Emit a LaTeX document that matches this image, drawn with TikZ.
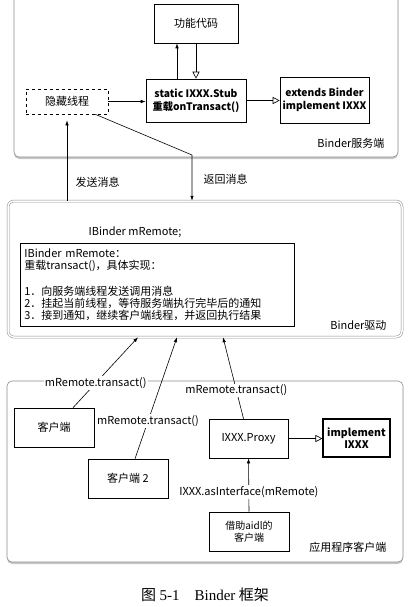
\documentclass[tikz,border=0pt]{standalone}
\usepackage{fontspec}
\setmainfont{Noto Sans CJK SC}
\newfontfamily\capserif{Liberation Serif}
\usepackage{tikz}
\usetikzlibrary{arrows.meta,positioning,shadows}
\definecolor{panelgray}{RGB}{140,140,140}

\begin{document}
\begin{tikzpicture}[x=1pt, y=-1pt,
  every node/.style={font=\fontsize{11}{13}\selectfont},
  box/.style={draw, line width=0.6pt, align=center, inner sep=2pt},
  panel/.style={draw=panelgray, line width=0.6pt, rounded corners=5pt, fill=white,
    drop shadow={shadow xshift=0pt, shadow yshift=-2pt, opacity=0.45}},
  call/.style={-{Latex[length=5pt,width=3.5pt]}, line width=0.6pt},
  inherit/.style={-{Triangle[open,length=7pt,width=7pt]}, line width=0.6pt},
  tag/.style={fill=white, inner sep=1pt}]
  \useasboundingbox (0,0) rectangle (419,607);
  \clip (0,0) rectangle (419,607);

  % panels
  \node[panel, minimum width=384pt, minimum height=167pt] (srv) at (206,73.5) {};
  \node[panel, minimum width=396pt, minimum height=181pt] (app) at (205,471.5) {};
  \node[draw=panelgray, double, double distance=1.5pt, line width=0.5pt, rounded corners=6pt, fill=white,
    minimum width=394pt, minimum height=136pt] (drv) at (205,269) {};

  % server side
  \node[box, minimum width=84pt, minimum height=39pt] (func) at (196,23.5) {功能代码};
  \node[box, minimum width=100pt, minimum height=43pt, font=\fontsize{10.3}{13}\selectfont\bfseries] (stub) at (196,100.5) {static IXXX.Stub\\重载onTransact()};
  \node[box, minimum width=89pt, minimum height=46pt, font=\fontsize{10.3}{13}\selectfont\bfseries] (ext) at (324.5,100) {extends Binder\\implement IXXX};
  \node[box, dashed, minimum width=82pt, minimum height=25pt] (hidden) at (67,101.5) {隐藏线程};
  \node[anchor=east] (srvname) at (388,143) {Binder服务端};

  % driver
  \node (mremote) at (135,232) {IBinder mRemote;};
  \node[box, anchor=north west, align=left, text width=266pt, minimum height=83pt, inner sep=4pt,
    font=\fontsize{11}{12}\selectfont] (note) at (20,243)
    {IBinder mRemote：\\重载transact()，具体实现：\\[14pt]
     1．向服务端线程发送调用消息\\
     2．挂起当前线程，等待服务端执行完毕后的通知\\
     3．接到通知，继续客户端线程，并返回执行结果};
  \node[anchor=east] (drvname) at (390,325) {Binder驱动};

  % client side
  \node[box, minimum width=80pt, minimum height=39pt] (client) at (54,427.5) {客户端};
  \node[box, minimum width=80pt, minimum height=39pt] (client2) at (128,478.5) {客户端 2};
  \node[box, minimum width=79pt, minimum height=39pt] (proxy) at (248.5,438.5) {IXXX.Proxy};
  \node[box, line width=1.1pt, minimum width=67pt, minimum height=38pt, font=\fontsize{10.5}{12}\selectfont\bfseries] (impl) at (356.5,438) {implement\\IXXX};
  \node[box, minimum width=80pt, minimum height=39pt, font=\fontsize{10}{12.5}\selectfont] (aidl) at (249,531.5) {借助aidl的\\客户端};
  \node[anchor=east] (appname) at (390,547) {应用程序客户端};

  % connectors
  \draw[call] ([xshift=-19pt]stub.north) -- ([xshift=-19pt]func.south);
  \draw[inherit] (func.south) -- (stub.north);
  \draw[call] (hidden.east) -- (hidden.east -| stub.west);
  \draw[inherit] (stub.east) -- (stub.east -| ext.west);

  \draw[call, shorten >=6pt] (hidden.south |- drv.north) -- (hidden.south);
  \coordinate (bend) at (192,155);
  \draw[call] ([xshift=-13pt]hidden.south east) -- (bend) -- (bend |- drv.north);
  \node[anchor=west] (sendmsg) at (72,182) {发送消息};
  \node[anchor=west] (retmsg) at (200,179) {返回消息};

  \draw[call] ([xshift=19pt]client.north) -- node[tag, pos=0.35] {mRemote.transact()} ([xshift=-67pt]drv.south);
  \draw[call] ([xshift=7pt]client2.north) -- node[tag, pos=0.31] {mRemote.transact()} ([xshift=-28pt]drv.south);
  \draw[call] ([xshift=-5pt]proxy.north) -- node[tag, pos=0.35] {mRemote.transact()} ([xshift=18pt]drv.south);
  \draw[inherit] (proxy.east) -- (proxy.east -| impl.west);
  \draw[call] (aidl.north) -- node[tag, pos=0.37] {IXXX.asInterface(mRemote)} (proxy.south);

  % caption
  \node[font=\fontsize{15}{17}\selectfont] (caption) at (205,595) {图 {\capserif 5-1\quad Binder} 框架};
\end{tikzpicture}
\end{document}
